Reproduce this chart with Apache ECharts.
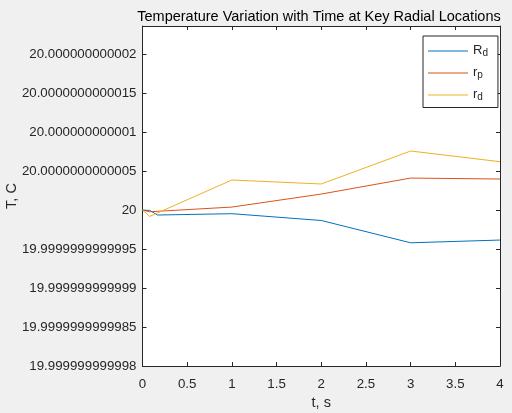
<!DOCTYPE html>
<html>
<head>
<meta charset="utf-8">
<script src="https://cdn.jsdelivr.net/npm/echarts@6/dist/echarts.min.js"></script>
<style>
  html, body { margin: 0; padding: 0; background: #f0f0f0; }
  #chart { width: 512px; height: 413px; }
</style>
</head>
<body>
<div id="chart"></div>
<script>
// time points, s
var timeS = [0, 0.08, 0.17, 1, 2, 3, 4];
// temperature minus 20 C, in units of 1e-12 C
var outerRd = [0, -0.005, -0.064, -0.047, -0.134, -0.42, -0.385];
var innerRp = [0, -0.022, -0.016, 0.038, 0.205, 0.41, 0.398];
var innerRd = [0, -0.082, -0.036, 0.385, 0.334, 0.757, 0.62];

// y tick positions (same units) and their labels
var yTickValues = [-2, -1.5, -1, -0.5, 0, 0.5, 1, 1.5, 2];
var yTickLabels = ['19.999999999998', '19.9999999999985', '19.999999999999', '19.9999999999995',
  '20', '20.0000000000005', '20.000000000001', '20.0000000000015', '20.000000000002'];

var colors = ['#0072BD', '#D95319', '#EDB120'];
var textColor = '#262626';
var font = 'Liberation Sans';

function pairs(xs, ys) {
    return xs.map(function (x, i) { return [x, ys[i]]; });
}

var myChart = echarts.init(document.getElementById('chart'));

var frameAxis = {
    axisLine: { show: true, onZero: false, lineStyle: { color: textColor, width: 1 } },
    axisTick: { show: true, inside: true, length: 4, lineStyle: { color: textColor } },
    splitLine: { show: false }
};

var option = {
    backgroundColor: '#f0f0f0',
    animation: false,
    color: colors,
    title: {
        text: 'Temperature Variation with Time at Key Radial Locations',
        left: 314,
        textAlign: 'center',
        top: 4,
        textStyle: { fontFamily: font, fontSize: 14.5, fontWeight: 'normal', color: '#000' }
    },
    grid: {
        left: 142.5, right: 12, top: 26, bottom: 47,
        outerBoundsMode: 'none', containLabel: false,
        show: true, backgroundColor: '#fff', borderWidth: 0
    },
    legend: {
        orient: 'vertical',
        left: 423, top: 36,
        padding: [5, 10, 5.5, 5],
        icon: 'rect',
        itemWidth: 40, itemHeight: 1, itemGap: 5,
        backgroundColor: '#fff',
        borderColor: textColor, borderWidth: 1, borderRadius: 0,
        formatter: function (name) {
            return '{b|' + name.charAt(0) + '}{s|' + name.slice(2) + '}';
        },
        textStyle: {
            color: textColor, fontFamily: font,
            rich: {
                b: { fontSize: 13, fontFamily: font, color: textColor, verticalAlign: 'top', lineHeight: 14 },
                s: { fontSize: 10, fontFamily: font, color: textColor, verticalAlign: 'bottom', lineHeight: 14, padding: [7, 0, 0, 0] }
            }
        }
    },
    xAxis: [
        Object.assign({}, frameAxis, {
            type: 'value', min: 0, max: 4, interval: 0.5,
            name: 't, s', nameLocation: 'middle', nameGap: 29, nameMoveOverlap: false,
            nameTextStyle: { fontFamily: font, fontSize: 14.5, color: textColor },
            axisLabel: { fontFamily: font, fontSize: 13.3, color: textColor, margin: 12 }
        }),
        Object.assign({}, frameAxis, {
            type: 'value', position: 'top', min: 0, max: 4, interval: 0.5,
            axisLabel: { show: false }
        })
    ],
    yAxis: [
        Object.assign({}, frameAxis, {
            type: 'value', min: -2, max: 2.36, interval: 0.5,
            name: 'T, C', nameLocation: 'middle', nameGap: 123, nameMoveOverlap: false,
            nameTextStyle: { fontFamily: font, fontSize: 14.5, color: textColor },
            axisLabel: {
                fontFamily: font, fontSize: 13.3, color: textColor, margin: 6,
                formatter: function (v) {
                    for (var i = 0; i < yTickValues.length; i++) {
                        if (Math.abs(v - yTickValues[i]) < 1e-6) return yTickLabels[i];
                    }
                    return '';
                }
            }
        }),
        Object.assign({}, frameAxis, {
            type: 'value', position: 'right', min: -2, max: 2.36, interval: 0.5,
            axisLabel: { show: false }
        })
    ],
    series: [
        { name: 'R_d', type: 'line', data: pairs(timeS, outerRd), symbol: 'none', lineStyle: { width: 1 } },
        { name: 'r_p', type: 'line', data: pairs(timeS, innerRp), symbol: 'none', lineStyle: { width: 1 } },
        { name: 'r_d', type: 'line', data: pairs(timeS, innerRd), symbol: 'none', lineStyle: { width: 1 } }
    ]
};

myChart.setOption(option);
</script>
</body>
</html>
